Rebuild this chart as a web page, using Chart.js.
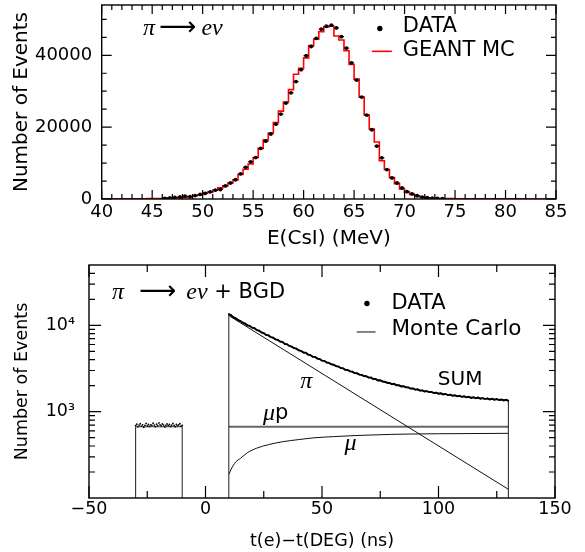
<!DOCTYPE html>
<html><head><meta charset="utf-8">
<script src="https://cdn.jsdelivr.net/npm/chart.js@4.4.0/dist/chart.umd.min.js"></script>
<style>
html,body{margin:0;padding:0;background:#fff;}
#wrap{position:relative;width:585px;height:552px;overflow:hidden;background:#fff;}
canvas{position:absolute;left:0;}
#c1{top:0;} #c2{top:260px;}
</style></head><body>
<div id="wrap"><canvas id="c1" width="585" height="260"></canvas><canvas id="c2" width="585" height="292"></canvas></div>
<script>
// ---------- TOP PANEL: E(CsI) spectrum, 0.5 MeV bins from 40 to 85 MeV ----------
const energyBinLow = 40, energyBinWidth = 0.5;
const mcCounts = [
  20,20,25,30,30,40,50,60,80,100,
  120,150,250,300,350,380,450,640,900,1200,
  1640,1900,2450,3090,3640,4450,5360,6800,8270,9730,
  11540,14090,16450,18360,21270,24450,27000,30450,34720,36400,
  39270,42720,44450,46540,47900,48090,45360,44270,41270,37450,
  33360,28360,23370,19500,15860,10640,8230,6000,4270,2780,
  1860,1270,860,590,360,270,200,150,120,100,
  80,70,60,60,50,50,40,40,40,30,
  30,30,30,20,20,20,20,20,20,20
];
const dataCounts = [
  null,null,null,null,null,null,null,null,null,null,
  null,null,200,300,450,550,820,640,950,1270,
  1550,2000,2450,2640,3640,4450,5360,7000,8820,10360,
  11540,14090,16090,18090,20820,23630,26700,29540,32680,36000,
  39900,42450,44720,47270,48090,48360,47630,45180,42000,37900,
  33090,28360,23360,19270,14730,11450,8180,5870,4450,3090,
  2050,1400,910,545,360,230,150,90,null,null,
  null,null,null,null,null,null,null,null,null,null,
  null,null,null,null,null,null,null,null,null,null
];
const energyTickLabels = [40,45,50,55,60,65,70,75,80,85];
const countTickLabels = [0,20000,40000];

// ---------- BOTTOM PANEL: time spectrum (log) ----------
const bgdStart = -30, bgdStep = 0.5;
const bgdData = [690,715,670,700,725,680,705,660,695,730,685,710,675,705,695,735,700,670,715,690,740,705,685,720,700,665,695,720,690,710,675,700,730,695,670,710,685,705,725,680,695];
const bgdMcLevel = 670;
const sumStart = 10, sumStep = 1;
const sumData = [
  13450,13080,12350,12040,11500,11230,10740,10460,9990,9840,
  9400,9290,8810,8690,8260,8110,7740,7680,7300,7210,
  6870,6800,6490,6440,6090,6030,5770,5670,5440,5370,
  5130,5070,4850,4810,4580,4530,4330,4310,4120,4080,
  3900,3880,3710,3680,3540,3500,3370,3340,3210,3180,
  3050,3040,2930,2910,2800,2790,2690,2670,2580,2570,
  2480,2490,2390,2390,2300,2310,2230,2220,2160,2150,
  2080,2100,2020,2020,1960,1970,1910,1910,1850,1860,
  1800,1815,1755,1765,1715,1730,1685,1695,1645,1660,
  1615,1635,1585,1605,1555,1575,1530,1550,1505,1525,
  1485,1505,1465,1485,1445,1470,1430,1455,1415,1435,
  1400,1425,1385,1410,1375,1400,1365,1385,1350,1370,
  1335
];
const mcSumTimes  = [10,15,20,25,30,35,40,45,50,55,60,65,70,75,80,85,90,95,100,105,110,115,120,125,130];
const mcSumValues = [13500,11150,9450,8050,6920,5980,5170,4490,3930,3470,3080,2760,2500,2290,2100,1950,1820,1715,1630,1560,1500,1455,1415,1385,1355];
const piTimes = [10,130];
const piValues = [12970,126];
const muPTimes = [10,130];
const muPValues = [670,670];
const muTimes  = [10,11,12,13,15,18,22,27,33,40,47,55,65,80,100,130];
const muValues = [187,215,240,262,288,335,378,415,448,475,499,514,530,546,555,561];
const windowFloor = 100;   // axis minimum: histogram edges drop to it
const timeTickLabels = [-50,0,50,100,150];
const logTickLabels = [1000,10000];

// ---------- plugins ----------
const frameTicks = {
  id: 'frameTicks',
  afterDatasetsDraw(chart, args, o) {
    const {ctx, chartArea: a} = chart; const xs = chart.scales.x, ys = chart.scales.y;
    ctx.save(); ctx.strokeStyle = '#000'; ctx.lineWidth = o.tickWidth; ctx.beginPath();
    const xt = (vals, len) => vals.forEach(v => { const p = xs.getPixelForValue(v);
      ctx.moveTo(p, a.bottom); ctx.lineTo(p, a.bottom - len); ctx.moveTo(p, a.top); ctx.lineTo(p, a.top + len); });
    const yt = (vals, len) => vals.forEach(v => { const p = ys.getPixelForValue(v);
      ctx.moveTo(a.left, p); ctx.lineTo(a.left + len, p); ctx.moveTo(a.right, p); ctx.lineTo(a.right - len, p); });
    xt(o.xMajor, o.xMajorLen); xt(o.xMinor, o.xMinorLen); yt(o.yMajor, o.yMajorLen); yt(o.yMinor, o.yMinorLen);
    ctx.stroke();
    ctx.lineWidth = o.frameWidth; ctx.strokeRect(a.left, a.top, a.right - a.left, a.bottom - a.top);
    ctx.restore();
  }
};
const labelPlugin = {
  id: 'labels',
  afterDatasetsDraw(chart, args, o) {
    const {ctx} = chart; const xs = chart.scales.x, ys = chart.scales.y;
    ctx.save();
    for (const it of o.items) {
      const px = xs.getPixelForValue(it.x), py = ys.getPixelForValue(it.y);
      if (it.kind === 'dot') { ctx.fillStyle = '#000'; ctx.beginPath(); ctx.arc(px, py, it.r, 0, 2*Math.PI); ctx.fill(); continue; }
      if (it.kind === 'line') { const px2 = xs.getPixelForValue(it.x2); ctx.strokeStyle = it.color; ctx.lineWidth = it.w;
        ctx.beginPath(); ctx.moveTo(px, py); ctx.lineTo(px2, py); ctx.stroke(); continue; }
      ctx.textBaseline = 'middle'; ctx.textAlign = 'left'; ctx.fillStyle = '#000';
      let total = 0;
      it.segs.forEach(s => { ctx.font = s.f; s.w = ctx.measureText(s.t).width; total += s.w + (s.gap || 0); });
      let cx = it.align === 'center' ? px - total / 2 : px;
      it.segs.forEach(s => { ctx.font = s.f; ctx.fillText(s.t, cx, py + (s.dy || 0)); cx += s.w + (s.gap || 0); });
    }
    ctx.restore();
  }
};

const SANS = 'DejaVu Sans';
const GREEK = 'italic 24px "Liberation Serif"';
const minus = v => String(v).replace('-', '\u2212');
const fitX = h => s => { s.height = h; s.paddingLeft = 0; s.paddingRight = 0; s.paddingTop = 0; s.paddingBottom = 0; };
const fitY = w => s => { s.width = w; s.paddingLeft = 0; s.paddingRight = 0; s.paddingTop = 0; s.paddingBottom = 0; };

// ---------- build top chart ----------
const mcPts = mcCounts.map((c, i) => ({x: energyBinLow + i * energyBinWidth, y: c}));
mcPts.push({x: energyBinLow + mcCounts.length * energyBinWidth, y: mcCounts[mcCounts.length - 1]});
const dataPts = dataCounts.map((c, i) => ({x: energyBinLow + (i + 0.5) * energyBinWidth, y: c}));

const eMinor = []; for (let e = 40; e <= 85; e++) if (e % 5) eMinor.push(e);
const cMinor = [5000,10000,15000,25000,30000,35000,45000,50000];

new Chart(document.getElementById('c1'), {
  type: 'line',
  data: { datasets: [
    { label: 'DATA', data: dataPts, showLine: false, pointRadius: 1.9, pointHoverRadius: 0, pointBackgroundColor: '#000', pointBorderWidth: 0 },
    { label: 'DATA bar', data: dataPts, showLine: false, pointStyle: 'line', pointRadius: 2.6, pointBorderColor: '#000', pointBorderWidth: 1 },
    { label: 'GEANT MC', data: mcPts, stepped: true, borderColor: '#ff0000', borderWidth: 1.6, pointRadius: 0, fill: false }
  ]},
  options: {
    responsive: false, animation: false, events: [],
    layout: { padding: { left: 0, right: 29, top: 1.5, bottom: 0 } },
    plugins: {
      legend: { display: false }, tooltip: { enabled: false },
      frameTicks: { tickWidth: 1.2, frameWidth: 1.4, xMajor: energyTickLabels, xMinor: eMinor, xMajorLen: 9, xMinorLen: 5,
        yMajor: countTickLabels, yMinor: cMinor, yMajorLen: 10, yMinorLen: 5 },
      labels: { items: [
        { x: 44.1, y: 47470, segs: [ {t: '\u03C0', f: GREEK, gap: 4}, {t: '\u27F6', f: '26px ' + SANS, gap: 5}, {t: 'e\u03BD', f: GREEK} ] },
        { kind: 'dot', x: 67.55, y: 47470, r: 2.7 },
        { x: 69.83, y: 48000, segs: [ {t: 'DATA', f: '21px ' + SANS} ] },
        { kind: 'line', x: 66.76, x2: 68.74, y: 41100, color: '#ff0000', w: 1.6 },
        { x: 69.83, y: 41330, segs: [ {t: 'GEANT MC', f: '21px ' + SANS} ] }
      ] }
    },
    scales: {
      x: { type: 'linear', min: 40, max: 85,
        afterBuildTicks: s => { s.ticks = energyTickLabels.map(v => ({value: v})); },
        afterFit: fitX(61),
        grid: { display: false, drawTicks: false }, border: { display: false },
        ticks: { color: '#000', font: { family: SANS, size: 18, lineHeight: 1 }, padding: 4.5, autoSkip: false, maxRotation: 0 },
        title: { display: true, text: 'E(CsI) (MeV)', color: '#000', font: { family: SANS, size: 20, lineHeight: 1.2 }, padding: { top: 0, bottom: 9 } } },
      y: { type: 'linear', min: 0, max: 54000,
        afterBuildTicks: s => { s.ticks = countTickLabels.map(v => ({value: v})); },
        afterFit: fitY(101.7),
        grid: { display: false, drawTicks: false }, border: { display: false },
        ticks: { color: '#000', font: { family: SANS, size: 18, lineHeight: 1 }, padding: 9.5, callback: v => String(v) },
        title: { display: true, text: 'Number of Events', color: '#000', font: { family: SANS, size: 20, lineHeight: 1.2 }, padding: { top: 9.7, bottom: 0 } } }
    }
  },
  plugins: [frameTicks, labelPlugin]
});

// ---------- build bottom chart ----------
const bgdPts = bgdData.map((v, i) => ({x: bgdStart + i * bgdStep, y: v}));
const bgdLast = bgdStart + (bgdData.length - 1) * bgdStep;
const bgdMcPts = [ {x: bgdStart, y: windowFloor}, {x: bgdStart, y: bgdMcLevel}, {x: bgdLast, y: bgdMcLevel}, {x: bgdLast, y: windowFloor} ];
const sumPts = sumData.map((v, i) => ({x: sumStart + i * sumStep, y: v}));
const mcSumPts = [{x: mcSumTimes[0], y: windowFloor}]
  .concat(mcSumTimes.map((t, i) => ({x: t, y: mcSumValues[i]})))
  .concat([{x: mcSumTimes[mcSumTimes.length - 1], y: windowFloor}]);
const piPts = piTimes.map((t, i) => ({x: t, y: piValues[i]}));
const muPPts = muPTimes.map((t, i) => ({x: t, y: muPValues[i]}));
const muPts = muTimes.map((t, i) => ({x: t, y: muValues[i]}));

new Chart(document.getElementById('c2'), {
  type: 'line',
  data: { datasets: [
    { label: 'DATA bgd', data: bgdPts, showLine: false, pointRadius: 0.9, pointBackgroundColor: '#000', pointBorderWidth: 0 },
    { label: 'DATA', data: sumPts, borderColor: '#000', borderWidth: 1.9, pointRadius: 0.8, pointBackgroundColor: '#000', pointBorderWidth: 0, tension: 0 },
    { label: 'MC bgd', data: bgdMcPts, borderColor: '#333', borderWidth: 1.1, pointRadius: 0 },
    { label: 'MC sum', data: mcSumPts, borderColor: '#333', borderWidth: 1.1, pointRadius: 0 },
    { label: 'pi', data: piPts, borderColor: '#111', borderWidth: 1, pointRadius: 0 },
    { label: 'mu p', data: muPPts, borderColor: '#666', borderWidth: 2, pointRadius: 0 },
    { label: 'mu', data: muPts, borderColor: '#111', borderWidth: 1, pointRadius: 0, cubicInterpolationMode: 'monotone' }
  ]},
  options: {
    responsive: false, animation: false, events: [],
    layout: { padding: { left: 0, right: 30, top: 5, bottom: 0 } },
    plugins: {
      legend: { display: false }, tooltip: { enabled: false },
      frameTicks: { tickWidth: 1.2, frameWidth: 1.4, xMajor: timeTickLabels, xMinor: [-25,25,75,125], xMajorLen: 12, xMinorLen: 7,
        yMajor: logTickLabels, yMinor: [200,300,400,500,600,700,800,900,2000,3000,4000,5000,6000,7000,8000,9000,20000,30000,40000],
        yMajorLen: 12, yMinorLen: 6 },
      labels: { items: [
        { x: -40.1, y: 24000, segs: [ {t: '\u03C0', f: GREEK, gap: 15}, {t: '\u27F6', f: '26px ' + SANS, gap: 10}, {t: 'e\u03BD', f: GREEK, gap: 0}, {t: ' + BGD', f: '21px ' + SANS} ] },
        { kind: 'dot', x: 69.3, y: 17900, r: 2.7 },
        { x: 79.8, y: 17900, segs: [ {t: 'DATA', f: '21px ' + SANS} ] },
        { kind: 'line', x: 64.9, x2: 73.0, y: 8380, color: '#333', w: 1.2 },
        { x: 79.8, y: 8920, segs: [ {t: 'Monte Carlo', f: '21.5px ' + SANS} ] },
        { x: 43.2, y: 2214, align: 'center', segs: [ {t: '\u03C0', f: GREEK} ] },
        { x: 30.1, y: 940, align: 'center', segs: [ {t: '\u03BC', f: GREEK}, {t: 'p', f: '21px ' + SANS} ] },
        { x: 62.2, y: 421, align: 'center', segs: [ {t: '\u03BC', f: GREEK} ] },
        { x: 109.3, y: 2368, align: 'center', segs: [ {t: 'SUM', f: '20px ' + SANS} ] }
      ] }
    },
    scales: {
      x: { type: 'linear', min: -50, max: 150,
        afterBuildTicks: s => { s.ticks = timeTickLabels.map(v => ({value: v})); },
        afterFit: fitX(54),
        grid: { display: false, drawTicks: false }, border: { display: false },
        ticks: { color: '#000', font: { family: SANS, size: 17.5, lineHeight: 1 }, padding: 3, autoSkip: false, maxRotation: 0, callback: v => minus(v) },
        title: { display: true, text: 't(e)\u2212t(DEG) (ns)', color: '#000', font: { family: SANS, size: 17.5, lineHeight: 1.2 }, padding: { top: 0, bottom: 0.5 } } },
      y: { type: 'logarithmic', min: 100, max: 50000,
        afterBuildTicks: s => { s.ticks = logTickLabels.map(v => ({value: v})); },
        afterFit: fitY(89),
        grid: { display: false, drawTicks: false }, border: { display: false },
        ticks: { color: '#000', font: { family: SANS, size: 17.5, lineHeight: 1 }, padding: 14, callback: v => (v === 1000 ? '10\u00B3' : '10\u2074') },
        title: { display: true, text: 'Number of Events', color: '#000', font: { family: SANS, size: 17.5, lineHeight: 1.2 }, padding: { top: 12, bottom: 0 } } }
    }
  },
  plugins: [frameTicks, labelPlugin]
});
</script>
</body></html>
